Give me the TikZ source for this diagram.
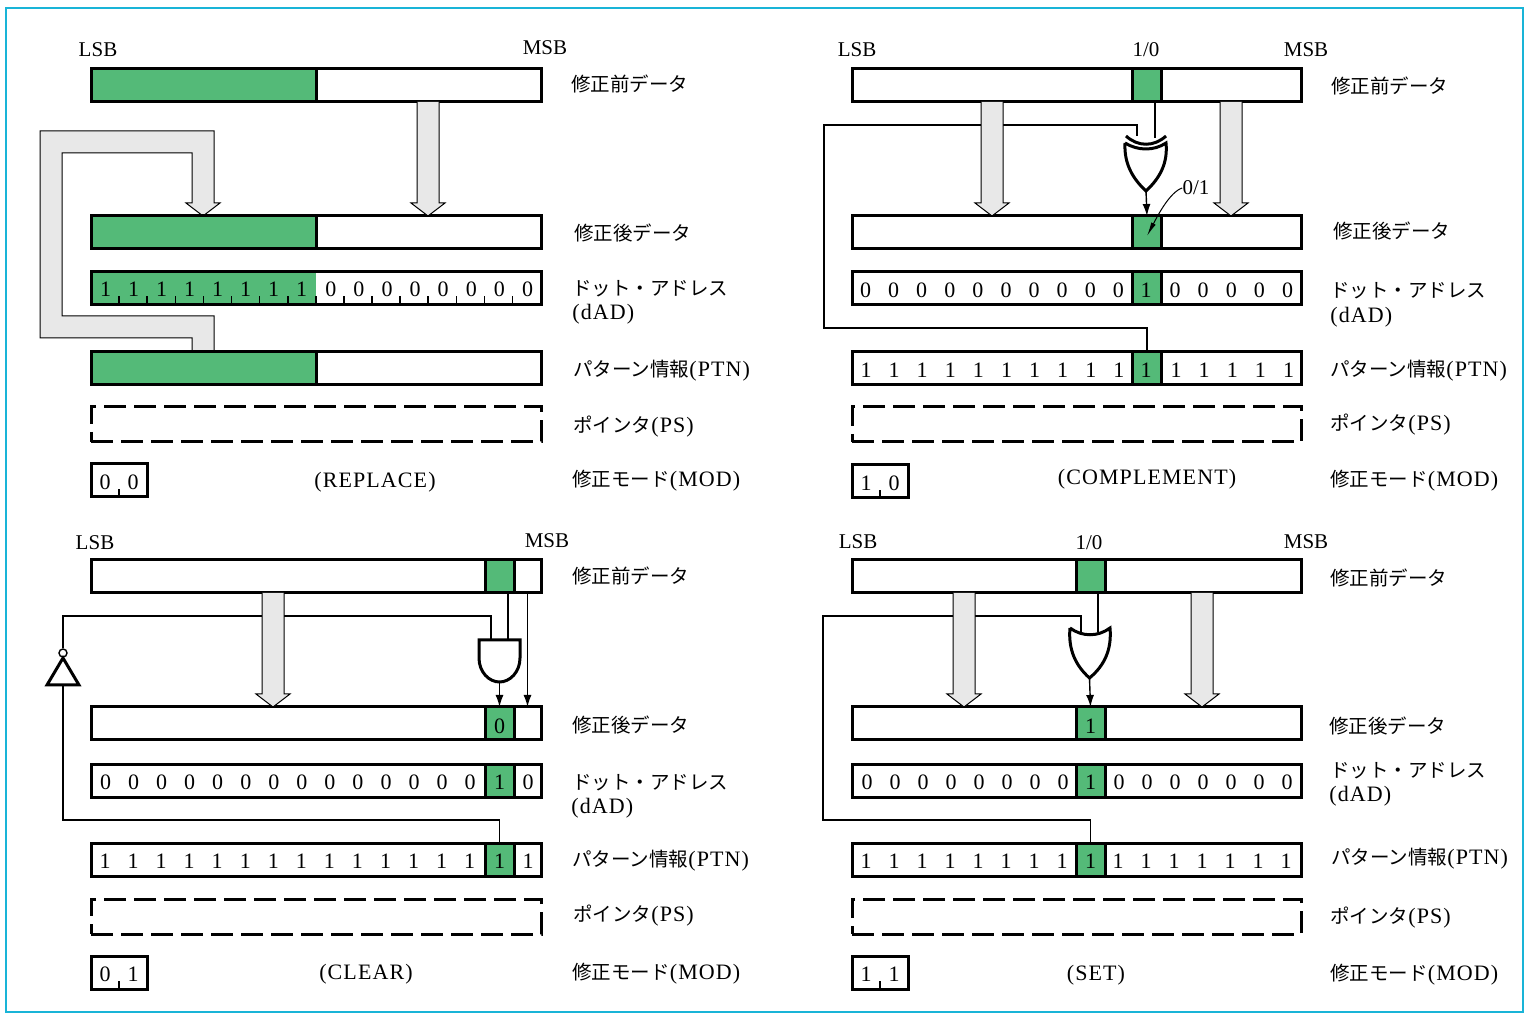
\documentclass[tikz,border=0pt]{standalone}
\usepackage{fontspec}
\setmainfont{Liberation Serif}
\newfontfamily\cjk{Noto Sans CJK JP}[Scale=0.886]
\newfontfamily\wide{Liberation Serif}[LetterSpace=5]
\usetikzlibrary{calc,arrows.meta}

\definecolor{framecyan}{RGB}{25,180,215}
\definecolor{markgreen}{RGB}{84,186,120}
\definecolor{pipegray}{RGB}{232,232,232}

\newcommand{\bigarrow}[3]{
  \coordinate (from) at (#1,0 |- #2.south);
  \coordinate (to) at (#1,0 |- #3.north);
  \draw[pipe] ($ (from) + (-11,0) $) -- ($ (to) + (-11,-13) $) -- ($ (to) + (-17,-13) $) -- (to)
              -- ($ (to) + (17,-13) $) -- ($ (to) + (11,-13) $) -- ($ (from) + (11,0) $);
}

\begin{document}
\begin{tikzpicture}[x=0.5pt,y=-0.5pt,
                    bar/.style={draw,line width=1.5pt,fill=white,anchor=north west,inner sep=0pt,outer sep=0pt,
                                minimum width=225pt,minimum height=16.5pt},
                    barright/.style={bar,minimum width=224.5pt},
                    pointer/.style={bar,dash pattern=on 11pt off 4pt,minimum height=17.5pt},
                    greencell/.style={bar,fill=markgreen,minimum width=14.5pt},
                    modbox/.style={bar,minimum width=28pt},
                    digit/.style={inner sep=0pt,yshift=-0.5pt,font=\fontsize{11}{12}\selectfont},
                    caption/.style={inner sep=0pt,yshift=-0.5pt,font=\fontsize{10.5}{12}\selectfont},
                    modename/.style={caption,font=\fontsize{11}{12}\selectfont\wide},
                    rowname/.style={caption,anchor=west,font=\fontsize{11}{12}\selectfont\wide},
                    pipe/.style={draw,line width=0.5pt,fill=pipegray},
                    wire/.style={line width=0.7pt},
                    feed/.style={wire,-{Latex[length=6pt,width=4pt]}},
                    gate/.style={draw,line width=1.5pt,fill=white},
                    tick/.style={line width=0.8pt}]
  \useasboundingbox (0,0) rectangle (1532,1015);
  \draw[framecyan,line width=1.3pt] (6,8) rectangle (1523,1012);

  % REPLACE
  \draw[pipe] (192,352) -- (192,338) -- (40,338) -- (40,131) -- (214,131) -- (214,203) -- (220,203)
              -- (203,216) -- (186,203) -- (192,203) -- (192,153) -- (62,153) -- (62,316) -- (214,316) -- (214,352);
  \node[bar] (before a) at (91,69) {};
  \node[greencell,minimum width=112.5pt] (before a mark) at (91,69) {};
  \node[bar] (after a) at (91,216) {};
  \node[greencell,minimum width=112.5pt] (after a mark) at (91,216) {};
  \node[bar] (dad a) at (91,272) {};
  \node[greencell,draw=none,minimum width=112.5pt] (dad a mark) at (91,272) {};
  \draw[line width=1.5pt] (dad a.north west) rectangle (dad a.south east);
  \node[bar] (ptn a) at (91,352) {};
  \node[greencell,minimum width=112.5pt] (ptn a mark) at (91,352) {};
  \node[pointer] (ps a) at (91,407) {};
  \node[modbox] (mod a) at (91,464) {};
  \bigarrow{428}{before a}{after a}
  \foreach \i in {0,...,7} \node[digit] (dad a\i) at (105.5+28*\i,288) {1};
  \foreach \i in {8,...,15} \node[digit] (dad a\i) at (106+28.1*\i,288) {0};
  \foreach \i in {1,...,15} \draw[tick] (91+28.1*\i,305) -- ++(0,-9);
  \node[digit] (mod a0) at (105,481) {0};
  \node[digit] (mod a1) at (133,481) {0};
  \draw[tick] (mod a.south) -- ++(0,-8);
  \node[caption] (lsb a) at (98,49) {LSB};
  \node[caption] (msb a) at (545,47) {MSB};
  \node[modename] (mode a) at (375,481) {(REPLACE)};
  \node[rowname] (before a name) at (571,83) {\cjk 修正前データ};
  \node[rowname] (after a name) at (574,232) {\cjk 修正後データ};
  \node[rowname] (dad a name) at (572,288) {\cjk ドット・アドレス};
  \node[rowname] (dad a abbr) at (572,313) {(dAD)};
  \node[rowname] (ptn a name) at (573,370) {{\cjk パターン情報}(PTN)};
  \node[rowname] (ps a name) at (573,426) {{\cjk ポインタ}(PS)};
  \node[rowname] (mod a name) at (572,480) {{\cjk 修正モード}(MOD)};

  % COMPLEMENT
  \node[barright] (before b) at (852,69) {};
  \node[greencell] (before b mark) at (1132.5,69) {};
  \node[barright] (after b) at (852,216) {};
  \node[greencell] (after b mark) at (1132.5,216) {};
  \node[barright] (dad b) at (852,272) {};
  \node[greencell] (dad b mark) at (1132.5,272) {};
  \node[barright] (ptn b) at (852,352) {};
  \node[greencell] (ptn b mark) at (1132.5,352) {};
  \node[pointer,minimum width=224.5pt] (ps b) at (852,407) {};
  \node[modbox] (mod b) at (852,465) {};
  \coordinate (xor in) at (1137,136);
  \coordinate (xor mid) at (1155,138);
  \coordinate (xor out) at (1146,191);
  \coordinate (loop b) at (824,328);
  \coordinate (return b) at (824,125);
  \draw[wire] (ptn b mark.north) |- (loop b) -- (return b) -| (xor in);
  \draw[wire,line width=1pt] (before b mark.south -| xor mid) -- (xor mid);
  \bigarrow{992}{before b}{after b}
  \bigarrow{1231}{before b}{after b}
  \draw[gate] (1125,143) .. controls (1138,151) and (1154,151) .. (1166,143)
              .. controls (1168,163) and (1160,178) .. (xor out)
              .. controls (1132,178) and (1124,163) .. (1125,143);
  \draw[gate,fill=none] (1126,136) .. controls (1138,147) and (1154,147) .. (1166,136);
  \draw[feed] (xor out) -- (after b mark.north);
  \node[caption] (flip b) at (1196,187) {0/1};
  \draw[wire,line width=0.5pt,-{Latex[length=7pt,width=2.5pt]}] (flip b.west) .. controls (1170,192) and (1158,215) .. (1147,236);
  \foreach \i in {0,...,9} \node[digit] (dad b\i) at (865.5+28.1*\i,289) {0};
  \node[digit] (dad b10) at (1146,289) {1};
  \foreach \i in {11,...,15} \node[digit] (dad b\i) at (866+28.1*\i,289) {0};
  \foreach \i in {0,...,9} \node[digit] (ptn b\i) at (866+28.1*\i,369) {1};
  \node[digit] (ptn b10) at (1146,369) {1};
  \foreach \i in {11,...,15} \node[digit] (ptn b\i) at (867+28.1*\i,369) {1};
  \node[digit] (mod b0) at (866,482) {1};
  \node[digit] (mod b1) at (894,482) {0};
  \draw[tick] (mod b.south) -- ++(0,-8);
  \node[caption] (lsb b) at (857,49) {LSB};
  \node[caption] (flag b) at (1146,49) {1/0};
  \node[caption] (msb b) at (1306,49) {MSB};
  \node[modename] (mode b) at (1147,478) {(COMPLEMENT)};
  \node[rowname] (before b name) at (1331,85) {\cjk 修正前データ};
  \node[rowname] (after b name) at (1333,230) {\cjk 修正後データ};
  \node[rowname] (dad b name) at (1330,290) {\cjk ドット・アドレス};
  \node[rowname] (dad b abbr) at (1330,316) {(dAD)};
  \node[rowname] (ptn b name) at (1330,370) {{\cjk パターン情報}(PTN)};
  \node[rowname] (ps b name) at (1330,424) {{\cjk ポインタ}(PS)};
  \node[rowname] (mod b name) at (1330,480) {{\cjk 修正モード}(MOD)};

  % CLEAR
  \node[bar] (before c) at (91,560) {};
  \node[greencell] (before c mark) at (485,560) {};
  \node[bar] (after c) at (91,707) {};
  \node[greencell] (after c mark) at (485,707) {};
  \node[bar] (dad c) at (91,764) {};
  \node[greencell] (dad c mark) at (485,764) {};
  \node[bar] (ptn c) at (91,843.5) {};
  \node[greencell] (ptn c mark) at (485,843.5) {};
  \node[pointer] (ps c) at (91,899) {};
  \node[modbox] (mod c) at (91,956) {};
  \coordinate (and in) at (491,640);
  \coordinate (and mid) at (508,640);
  \coordinate (and out) at (499.5,682);
  \coordinate (pass c) at (527.5,594);
  \node[circle,draw,line width=0.7pt,fill=white,inner sep=0pt,minimum size=4pt] (not bubble) at (63,653) {};
  \coordinate (not top) at (63,658);
  \coordinate (not base) at (63,685);
  \coordinate (loop c) at (63,820);
  \draw[wire] (ptn c mark.north) |- (loop c) -- (not base);
  \draw[wire] (not bubble.north) |- (and in |- 0,616) -- (and in);
  \draw[wire] (before c mark.south -| and mid) -- (and mid);
  \draw[feed] (pass c) -- (pass c |- after c.north);
  \bigarrow{273}{before c}{after c}
  \draw[gate] (479,640) -- (520,640) -- (520,658) .. controls (520,672) and (510,682) .. (and out)
              .. controls (489,682) and (479,672) .. (479,658) -- cycle;
  \draw[feed] (and out) -- (after c mark.north);
  \draw[gate,line join=miter] (not top) -- (79,685) -- (47,685) -- cycle;
  \node[digit] (after c0) at (499.5,725) {0};
  \foreach \i in {0,...,13} \node[digit] (dad c\i) at (105.5+28.05*\i,781) {0};
  \node[digit] (dad c14) at (499.5,781) {1};
  \node[digit] (dad c15) at (528,781) {0};
  \foreach \i in {0,...,13} \node[digit] (ptn c\i) at (105+28.05*\i,860) {1};
  \node[digit] (ptn c14) at (499.5,860) {1};
  \node[digit] (ptn c15) at (528,860) {1};
  \node[digit] (mod c0) at (105,973) {0};
  \node[digit] (mod c1) at (133,973) {1};
  \draw[tick] (mod c.south) -- ++(0,-8);
  \node[caption] (lsb c) at (95,542) {LSB};
  \node[caption] (msb c) at (547,540) {MSB};
  \node[modename] (mode c) at (366,973) {(CLEAR)};
  \node[rowname] (before c name) at (572,575) {\cjk 修正前データ};
  \node[rowname] (after c name) at (572,724) {\cjk 修正後データ};
  \node[rowname] (dad c name) at (572,782) {\cjk ドット・アドレス};
  \node[rowname] (dad c abbr) at (571,807) {(dAD)};
  \node[rowname] (ptn c name) at (572,860) {{\cjk パターン情報}(PTN)};
  \node[rowname] (ps c name) at (573,915) {{\cjk ポインタ}(PS)};
  \node[rowname] (mod c name) at (572,973) {{\cjk 修正モード}(MOD)};

  % SET
  \node[barright] (before d) at (852,560) {};
  \node[greencell] (before d mark) at (1076,560) {};
  \node[barright] (after d) at (852,707) {};
  \node[greencell] (after d mark) at (1076,707) {};
  \node[barright] (dad d) at (852,764) {};
  \node[greencell] (dad d mark) at (1076,764) {};
  \node[barright] (ptn d) at (852,843.5) {};
  \node[greencell] (ptn d mark) at (1076,843.5) {};
  \node[pointer,minimum width=224.5pt] (ps d) at (852,899) {};
  \node[modbox] (mod d) at (852,956) {};
  \coordinate (or in) at (1081,632);
  \coordinate (or mid) at (1098,632);
  \coordinate (or out) at (1089.5,678);
  \coordinate (loop d) at (823,820);
  \coordinate (return d) at (823,616);
  \draw[wire] (ptn d mark.north) |- (loop d) -- (return d) -| (or in);
  \draw[wire,line width=1pt] (before d mark.south -| or mid) -- (or mid);
  \bigarrow{964}{before d}{after d}
  \bigarrow{1202}{before d}{after d}
  \draw[gate] (1070,628) .. controls (1082,637) and (1098,637) .. (1110,628)
              .. controls (1112,650) and (1104,666) .. (or out)
              .. controls (1076,666) and (1068,650) .. (1070,628);
  \draw[feed] (or out) -- (after d mark.north);
  \node[digit] (after d0) at (1090.5,725) {1};
  \foreach \i in {0,...,7} \node[digit] (dad d\i) at (867+28*\i,781) {0};
  \node[digit] (dad d8) at (1090.5,781) {1};
  \foreach \i in {9,...,15} \node[digit] (dad d\i) at (867+28*\i,781) {0};
  \foreach \i in {0,...,7} \node[digit] (ptn d\i) at (866+28*\i,860) {1};
  \node[digit] (ptn d8) at (1090.5,860) {1};
  \foreach \i in {9,...,15} \node[digit] (ptn d\i) at (866+28*\i,860) {1};
  \node[digit] (mod d0) at (866,973) {1};
  \node[digit] (mod d1) at (894,973) {1};
  \draw[tick] (mod d.south) -- ++(0,-8);
  \node[caption] (lsb d) at (858,541) {LSB};
  \node[caption] (flag d) at (1089,542) {1/0};
  \node[caption] (msb d) at (1306,541) {MSB};
  \node[modename] (mode d) at (1096,974) {(SET)};
  \node[rowname] (before d name) at (1330,577) {\cjk 修正前データ};
  \node[rowname] (after d name) at (1329,725) {\cjk 修正後データ};
  \node[rowname] (dad d name) at (1330,770) {\cjk ドット・アドレス};
  \node[rowname] (dad d abbr) at (1329,795) {(dAD)};
  \node[rowname] (ptn d name) at (1331,858) {{\cjk パターン情報}(PTN)};
  \node[rowname] (ps d name) at (1330,917) {{\cjk ポインタ}(PS)};
  \node[rowname] (mod d name) at (1330,974) {{\cjk 修正モード}(MOD)};
\end{tikzpicture}
\end{document}
